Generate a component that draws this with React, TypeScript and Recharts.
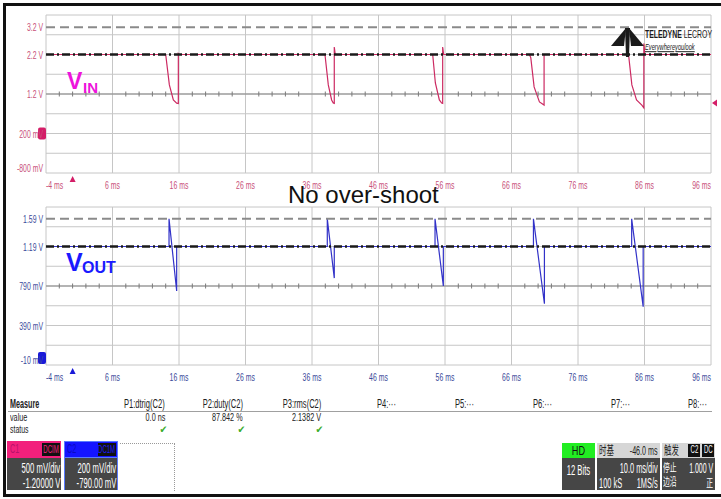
import React from "react";
import {
  ComposedChart,
  Line,
  XAxis,
  YAxis,
  CartesianGrid,
  ReferenceLine,
  ReferenceDot,
} from "recharts";

// time axis (ms)
const xTicks = [-4, 6, 16, 26, 36, 46, 56, 66, 76, 86, 96];
const xTickLabels = ["-4 ms", "6 ms", "16 ms", "26 ms", "36 ms", "46 ms", "56 ms", "66 ms", "76 ms", "86 ms", "96 ms"];
const minorTicks = [
  -2, 0, 2, 4, 8, 10, 12, 14, 18, 20, 22, 24, 28, 30, 32, 34, 38, 40, 42, 44,
  48, 50, 52, 54, 58, 60, 62, 64, 68, 70, 72, 74, 78, 80, 82, 84, 88, 90, 92, 94,
];

// C1 (VIN), 500 mV/div
const vinTicks = [-0.8, -0.3, 0.2, 0.7, 1.2, 1.7, 2.2, 2.7, 3.2];
const vinTickLabels = ["-800 mV", "", "200 mV", "", "1.2 V", "", "2.2 V", "", "3.2 V"];
const vinTime = [
  -4, 14.0, 14.55, 15.15, 15.65, 15.9, 15.9, 16.0,
  37.95, 38.45, 38.95, 39.2, 39.35, 39.35, 39.5,
  54.15, 54.55, 55.15, 55.5, 55.65, 55.65, 55.8,
  68.7, 68.9, 69.4, 70.2, 70.9, 70.9, 71.0,
  83.6, 84.1, 84.8, 85.6, 85.9, 85.9, 86.05, 96,
];
const vinVolt = [
  2.2, 2.2, 1.43, 1.05, 0.97, 0.96, 2.22, 2.2,
  2.2, 1.43, 1.05, 0.97, 0.96, 2.39, 2.2,
  2.2, 1.48, 1.05, 0.97, 0.96, 2.39, 2.2,
  2.2, 2.12, 1.38, 1.0, 0.92, 2.2, 2.2,
  2.2, 1.43, 1.05, 0.92, 0.85, 2.48, 2.2, 2.2,
];

// C2 (VOUT), 200 mV/div
const voutTicks = [-0.01, 0.19, 0.39, 0.59, 0.79, 0.99, 1.19, 1.39, 1.59];
const voutTickLabels = ["-10 mV", "", "390 mV", "", "790 mV", "", "1.19 V", "", "1.59 V"];
const voutTime = [
  -4, 14.5, 14.5, 15.65, 15.65, 38.3, 38.3, 39.35, 39.35,
  54.5, 54.5, 55.75, 55.75, 69.3, 69.3, 70.95, 70.95,
  84.07, 84.07, 85.8, 85.8, 96,
];
const voutVolt = [
  1.19, 1.19, 1.47, 0.74, 1.19, 1.19, 1.47, 0.87, 1.19,
  1.19, 1.47, 0.79, 1.19, 1.19, 1.47, 0.61, 1.19,
  1.19, 1.47, 0.58, 1.19, 1.19,
];

const vinData = vinTime.map((t, i) => ({ t, v: vinVolt[i] }));
const voutData = voutTime.map((t, i) => ({ t, v: voutVolt[i] }));

const ARIAL = "'Liberation Sans', Arial, sans-serif";
const CJK = "'Noto Sans CJK SC', sans-serif";

type ScopeProps = {
  data: { t: number; v: number }[];
  ticks: number[];
  tickLabels: string[];
  trace: string;
  labelColor: string;
  marker: string;
  cursor: number;
  level: number;
  center: number;
  ground: number;
  trigLevel?: number;
};

function Scope(p: ScopeProps) {
  const lo = p.ticks[0];
  const hi = p.ticks[p.ticks.length - 1];
  const minorData = minorTicks.map((t) => ({ t, v: p.center }));

  const yTick = (props: any) => {
    const i = p.ticks.indexOf(props.payload.value);
    const label = p.tickLabels[i];
    if (!label) return <g />;
    const shift = i === p.ticks.length - 1 ? 12 : i === 0 ? -5 : 0;
    return (
      <text
        transform={`translate(43,${props.y + shift + 4}) scale(0.6,1)`}
        textAnchor="end"
        fontSize={11.5}
        fill={p.labelColor}
        fontFamily={ARIAL}
      >
        {label}
      </text>
    );
  };

  const xTick = (props: any) => {
    const i = xTicks.indexOf(props.payload.value);
    const anchor = i === 0 ? "start" : i === xTicks.length - 1 ? "end" : "middle";
    return (
      <text
        transform={`translate(${props.x},${props.y + 14}) scale(0.6,1)`}
        textAnchor={anchor}
        fontSize={11.5}
        fill={p.labelColor}
        fontFamily={ARIAL}
      >
        {xTickLabels[i]}
      </text>
    );
  };

  return (
    <ComposedChart width={721} height={192} margin={{ top: 15, right: 10, bottom: 0, left: 0 }}>
      <CartesianGrid stroke="#c6c6c6" />
      <XAxis
        dataKey="t"
        type="number"
        domain={[-4, 96]}
        ticks={xTicks}
        interval={0}
        height={19}
        tickSize={0}
        axisLine={false}
        tickLine={false}
        allowDataOverflow
        tick={xTick}
      />
      <YAxis
        type="number"
        domain={[lo, hi]}
        ticks={p.ticks}
        interval={0}
        width={46}
        axisLine={false}
        tickLine={false}
        allowDataOverflow
        tick={yTick}
      />
      <ReferenceLine y={p.center} stroke="#858585" />
      <Line
        data={minorData}
        dataKey="v"
        stroke="none"
        isAnimationActive={false}
        activeDot={false}
        legendType="none"
        dot={(d: any) => (
          <line key={`mn-${d.index}`} x1={d.cx} x2={d.cx} y1={d.cy - 2.5} y2={d.cy + 2.5} stroke="#7a7a7a" />
        )}
      />
      <Line data={p.data} dataKey="v" type="linear" stroke={p.trace} strokeWidth={1.2} dot={false} activeDot={false} isAnimationActive={false} />
      <ReferenceLine y={p.cursor} stroke="#8a8a8a" strokeWidth={2} strokeDasharray="9 5" />
      <ReferenceLine y={p.level} stroke="#1a1a1a" strokeWidth={2.4} strokeDasharray="8 3 2 3" />
      <ReferenceDot
        x={-4}
        y={p.ground}
        ifOverflow="visible"
        shape={(d: any) => {
          const top = p.ground === lo ? d.cy - 13 : d.cy - 6;
          return <rect x={d.cx - 8} y={top} width={8} height={12} rx={2} fill={p.marker} />;
        }}
      />
      <ReferenceDot
        x={0}
        y={lo}
        ifOverflow="visible"
        shape={(d: any) => (
          <polygon points={`${d.cx},${d.cy + 3} ${d.cx - 3},${d.cy + 9} ${d.cx + 3},${d.cy + 9}`} fill={p.marker} />
        )}
      />
      {p.trigLevel !== undefined && (
        <ReferenceDot
          x={96}
          y={p.trigLevel}
          ifOverflow="visible"
          shape={(d: any) => (
            <polygon points={`${d.cx + 1},${d.cy} ${d.cx + 6},${d.cy - 3.5} ${d.cx + 6},${d.cy + 3.5}`} fill={p.marker} />
          )}
        />
      )}
    </ComposedChart>
  );
}

// condensed absolute text: x = left edge, r = right edge, c = centre
function Txt(props: {
  x?: number;
  r?: number;
  c?: number;
  cy: number;
  size?: number;
  sx?: number;
  color?: string;
  bold?: boolean;
  font?: string;
  children: React.ReactNode;
}) {
  const size = props.size ?? 12;
  const sx = props.sx ?? 0.63;
  const style: React.CSSProperties = {
    position: "absolute",
    top: props.cy - size / 2,
    height: size,
    fontSize: size,
    lineHeight: `${size}px`,
    color: props.color ?? "#222",
    fontWeight: props.bold ? 700 : 400,
    fontFamily: props.font ?? ARIAL,
    whiteSpace: "nowrap",
  };
  let origin = "left center";
  if (props.c !== undefined) {
    style.left = props.c - 60;
    style.width = 120;
    style.textAlign = "center";
    origin = "center center";
  } else if (props.r !== undefined) {
    style.right = 721 - props.r;
    origin = "right center";
  } else style.left = props.x;
  return (
    <div style={style}>
      <span style={{ display: "inline-block", transform: `scaleX(${sx})`, transformOrigin: origin }}>{props.children}</span>
    </div>
  );
}

function Box(props: { x: number; y: number; w: number; h: number; bg: string; style?: React.CSSProperties }) {
  return <div style={{ position: "absolute", left: props.x, top: props.y, width: props.w, height: props.h, background: props.bg, ...props.style }} />;
}

export default function App() {
  return (
    <div style={{ position: "absolute", left: 0, top: 0, width: 721, height: 499, background: "#fff", overflow: "hidden" }}>
      <div style={{ position: "absolute", left: 0, top: 0 }}>
        <Scope
          data={vinData}
          ticks={vinTicks}
          tickLabels={vinTickLabels}
          trace="#cc2a62"
          labelColor="#c8507a"
          marker="#d41e68"
          cursor={2.89}
          level={2.2}
          center={1.2}
          ground={0.2}
          trigLevel={0.97}
        />
      </div>
      <div style={{ position: "absolute", left: 0, top: 192 }}>
        <Scope
          data={voutData}
          ticks={voutTicks}
          tickLabels={voutTickLabels}
          trace="#3232c8"
          labelColor="#3a4a9a"
          marker="#1a1ad8"
          cursor={1.47}
          level={1.19}
          center={0.79}
          ground={-0.01}
        />
      </div>

      <svg width={721} height={499} style={{ position: "absolute", left: 0, top: 0, pointerEvents: "none" }}>
        <text x={67} y={89} fontSize={23} fontWeight={700} fill="#ee14dc" fontFamily={ARIAL}>V</text>
        <text x={83} y={93} fontSize={15} fontWeight={700} fill="#ee14dc" fontFamily={ARIAL}>IN</text>
        <text x={66} y={271} fontSize={25} fontWeight={700} fill="#1a1aff" fontFamily={ARIAL}>V</text>
        <text x={82} y={273} fontSize={16} fontWeight={700} fill="#1a1aff" fontFamily={ARIAL}>OUT</text>
        <text x={288} y={203} fontSize={24} fill="#111" fontFamily={ARIAL}>No over-shoot</text>
        {/* logo */}
        <g fill="#1a1a1a">
          <polygon points="626,28 611,46 624,46" />
          <polygon points="629,28 644,46 631,46" />
          <polygon points="625,28 630,28 629,57 626,57" />
        </g>
        <text transform="translate(645,38) scale(0.6,1)" fontSize={11.5} fontWeight={700} fill="#1a1a1a" fontFamily={ARIAL}>
          TELEDYNE <tspan fontWeight={400}>LECROY</tspan>
        </text>
        <text transform="translate(645,50) scale(0.6,1)" fontSize={9.5} fontStyle="italic" fill="#1a1a1a" fontFamily={ARIAL} textDecoration="underline">
          Everywhereyoulook
        </text>
      </svg>

      {/* measurement table */}
      <Txt x={10} cy={404} bold sx={0.6}>Measure</Txt>
      <Txt r={165} cy={404}>P1:dtrig(C2)</Txt>
      <Txt r={243} cy={404}>P2:duty(C2)</Txt>
      <Txt r={321} cy={404}>P3:rms(C2)</Txt>
      <Txt x={377} cy={404}>P4:···</Txt>
      <Txt x={455} cy={404}>P5:···</Txt>
      <Txt x={533} cy={404}>P6:···</Txt>
      <Txt x={611} cy={404}>P7:···</Txt>
      <Txt x={688} cy={404}>P8:···</Txt>
      <Box x={8} y={411} w={704} h={1} bg="#a0a0a0" />
      <Txt x={10} cy={418} size={11.5}>value</Txt>
      <Txt r={165} cy={418} size={11.5}>0.0 ns</Txt>
      <Txt r={243} cy={418} size={11.5}>87.842 %</Txt>
      <Txt r={321} cy={418} size={11.5}>2.1382 V</Txt>
      <Txt x={10} cy={429.5} size={11}>status</Txt>
      <Txt c={163} cy={429.5} color="#3aac2a" font="'DejaVu Sans', sans-serif" size={10.5} sx={0.9}>✔</Txt>
      <Txt c={241} cy={429.5} color="#3aac2a" font="'DejaVu Sans', sans-serif" size={10.5} sx={0.9}>✔</Txt>
      <Txt c={319} cy={429.5} color="#3aac2a" font="'DejaVu Sans', sans-serif" size={10.5} sx={0.9}>✔</Txt>

      {/* channel boxes */}
      <Box x={7} y={441} w={54} h={17} bg="#f2207c" />
      <Txt x={10} cy={449} color="#b8126a" size={12} sx={0.6}>C1</Txt>
      <Box x={42} y={443} w={18} h={13} bg="#111" />
      <Txt c={51} cy={449} color="#f2207c" size={11} sx={0.55}>DCIM</Txt>
      <Box x={7} y={458} w={54} h={32} bg="#464646" />
      <Txt r={60} cy={468} color="#fff" size={14} sx={0.55}>500 mV/div</Txt>
      <Txt r={60} cy={483} color="#fff" size={14} sx={0.55}>-1.20000 V</Txt>

      <Box x={64} y={441} w={54} h={17} bg="#1414ff" style={{ boxShadow: "inset 0 0 0 1px #5a7aff" }} />
      <Txt x={67} cy={449} color="#0a0ac0" size={12} sx={0.6}>C2</Txt>
      <Box x={98} y={443} w={18} h={13} bg="#111" />
      <Txt c={107} cy={449} color="#1a1aff" size={11} sx={0.55}>DC1M</Txt>
      <Box x={64} y={458} w={54} h={32} bg="#464646" style={{ boxShadow: "inset 1px 0 0 #5a7aff, inset -1px 0 0 #5a7aff" }} />
      <Txt r={116} cy={468} color="#fff" size={14} sx={0.55}>200 mV/div</Txt>
      <Txt r={116} cy={483} color="#fff" size={14} sx={0.55}>-790.00 mV</Txt>
      <Box x={120} y={443} w={54} h={47} bg="transparent" style={{ borderTop: "1px dotted #999", borderRight: "1px dotted #999" }} />

      {/* acquisition boxes */}
      <Box x={562} y={443} w={33} h={15} bg="#22ee22" />
      <Txt c={578} cy={450} size={13} sx={0.7} color="#111">HD</Txt>
      <Box x={562} y={458} w={33} h={32} bg="#464646" />
      <Txt c={578} cy={470} size={14} sx={0.55} color="#fff">12 Bits</Txt>

      <Box x={597} y={443} w={63} h={15} bg="#d6d6d6" />
      <Txt x={599} cy={450} color="#222" font={CJK} size={12} sx={0.62}>时基</Txt>
      <Txt r={658} cy={450} color="#222" size={13} sx={0.55}>-46.0 ms</Txt>
      <Box x={597} y={458} w={63} h={32} bg="#464646" />
      <Txt r={658} cy={468} color="#fff" size={14} sx={0.53}>10.0 ms/div</Txt>
      <Txt x={599} cy={483} color="#fff" size={14} sx={0.53}>100 kS</Txt>
      <Txt r={658} cy={483} color="#fff" size={14} sx={0.53}>1MS/s</Txt>

      <Box x={662} y={443} w={53} h={15} bg="#d6d6d6" />
      <Txt x={664} cy={450} color="#222" font={CJK} size={12} sx={0.62}>触发</Txt>
      <Box x={688} y={444} w={12} h={13} bg="#111" />
      <Txt c={694} cy={450} color="#fff" size={10} sx={0.6}>C2</Txt>
      <Box x={702} y={444} w={12} h={13} bg="#111" />
      <Txt c={708} cy={450} color="#fff" size={10} sx={0.6}>DC</Txt>
      <Box x={662} y={458} w={53} h={32} bg="#464646" />
      <Txt x={663} cy={467} color="#fff" font={CJK} size={11} sx={0.62}>停止</Txt>
      <Txt r={713} cy={468} color="#fff" size={14} sx={0.5}>1.000 V</Txt>
      <Txt x={663} cy={481} color="#fff" font={CJK} size={11} sx={0.62}>边沿</Txt>
      <Txt r={713} cy={482} color="#fff" font={CJK} size={11} sx={0.62}>正</Txt>

      {/* outer frame (right side runs off the picture) */}
      <div style={{ position: "absolute", left: 3, top: 3, width: 730, height: 488, border: "3px solid #111", pointerEvents: "none" }} />
    </div>
  );
}
